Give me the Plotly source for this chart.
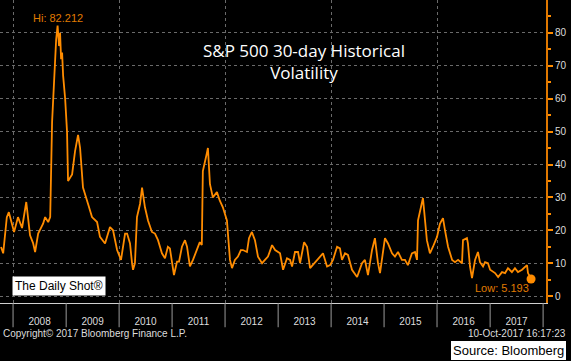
import plotly.graph_objects as go

# ---- data ----
dates = [
    "2007-10-10", "2007-10-25", "2007-11-19", "2007-12-03", "2008-01-08", "2008-02-04",
    "2008-03-03", "2008-04-01", "2008-04-27", "2008-05-18", "2008-06-01", "2008-06-22",
    "2008-07-26", "2008-08-09", "2008-08-30", "2008-09-13", "2008-09-26", "2008-10-10",
    "2008-10-24", "2008-11-03", "2008-11-13", "2008-11-20", "2008-11-27", "2008-12-04",
    "2008-12-11", "2008-12-25", "2009-01-07", "2009-01-14", "2009-02-11", "2009-03-03",
    "2009-03-24", "2009-04-07", "2009-04-27", "2009-06-01", "2009-06-28", "2009-08-02",
    "2009-08-22", "2009-09-26", "2009-10-30", "2009-11-20", "2009-12-18", "2010-01-14",
    "2010-02-11", "2010-02-25", "2010-03-17", "2010-03-31", "2010-04-07", "2010-04-20",
    "2010-05-04", "2010-05-25", "2010-06-08", "2010-06-28", "2010-07-19", "2010-08-15",
    "2010-09-05", "2010-09-26", "2010-10-23", "2010-11-13", "2010-12-03", "2010-12-17",
    "2011-01-07", "2011-01-14", "2011-02-04", "2011-02-18", "2011-03-10", "2011-03-31",
    "2011-04-14", "2011-05-04", "2011-05-25", "2011-06-21", "2011-07-11", "2011-07-25",
    "2011-08-01", "2011-08-29", "2011-09-05", "2011-09-19", "2011-10-09", "2011-11-06",
    "2011-11-26", "2011-12-17", "2012-01-14", "2012-02-04", "2012-02-18", "2012-03-09",
    "2012-03-30", "2012-04-19", "2012-05-03", "2012-05-31", "2012-06-14", "2012-07-04",
    "2012-07-25", "2012-08-15", "2012-09-12", "2012-10-02", "2012-10-23", "2012-11-20",
    "2012-12-11", "2013-01-14", "2013-02-04", "2013-03-03", "2013-03-24", "2013-04-07",
    "2013-04-27", "2013-05-18", "2013-06-01", "2013-06-29", "2013-07-19", "2013-08-09",
    "2013-09-13", "2013-10-03", "2013-11-06", "2013-12-04", "2013-12-25", "2014-01-14",
    "2014-02-11", "2014-03-03", "2014-03-17", "2014-04-07", "2014-04-27", "2014-05-25",
    "2014-06-29", "2014-08-02", "2014-08-22", "2014-09-12", "2014-10-10", "2014-10-30",
    "2014-11-20", "2014-12-04", "2014-12-25", "2015-01-07", "2015-01-28", "2015-02-25",
    "2015-03-17", "2015-04-07", "2015-05-04", "2015-05-25", "2015-06-14", "2015-07-12",
    "2015-08-02", "2015-08-16", "2015-08-23", "2015-09-19", "2015-09-26", "2015-10-23",
    "2015-11-13", "2015-12-04", "2016-01-01", "2016-01-21", "2016-02-11", "2016-02-25",
    "2016-03-17", "2016-04-14", "2016-05-04", "2016-05-25", "2016-06-21", "2016-06-28",
    "2016-07-25", "2016-08-01", "2016-08-15", "2016-08-29", "2016-09-19", "2016-10-09",
    "2016-10-23", "2016-11-13", "2016-11-27", "2016-12-17", "2017-01-01", "2017-02-04",
    "2017-02-25", "2017-03-24", "2017-04-14", "2017-05-04", "2017-05-31", "2017-06-21",
    "2017-07-12", "2017-08-09", "2017-08-29", "2017-09-12", "2017-09-19", "2017-10-10",
]
volatility = [
    14.9, 13.0, 24.0, 25.5, 19.5, 24.0,
    20.7, 28.6, 18.5, 16.1, 13.4, 19.0,
    22.0, 24.0, 22.5, 24.0, 53.0, 68.0,
    78.0, 82.212, 76.0, 80.0, 72.0, 74.0,
    67.0, 60.0, 50.0, 35.0, 37.0, 44.0,
    49.0, 45.0, 33.0, 28.0, 24.0, 22.5,
    18.0, 16.0, 21.0, 20.0, 14.0, 11.0,
    19.0, 19.0, 16.0, 10.0, 8.0, 10.0,
    24.0, 28.0, 33.0, 27.0, 23.0, 19.5,
    19.0, 17.0, 13.0, 11.5, 15.0, 14.5,
    9.0, 6.4, 10.5, 10.5, 15.0, 17.0,
    15.0, 9.0, 11.0, 14.0, 16.4, 15.5,
    38.0, 43.5, 45.0, 34.0, 30.0, 31.6,
    29.0, 27.0, 23.0, 11.0, 8.5, 11.0,
    12.0, 14.0, 14.0, 13.4, 17.6, 19.5,
    17.0, 12.0, 10.0, 11.0, 12.0, 15.5,
    14.0, 13.0, 8.0, 11.5, 11.0, 9.0,
    13.4, 13.4, 10.0, 16.4, 15.0, 8.5,
    10.3, 11.0, 13.0, 9.0, 9.4, 11.0,
    15.0, 14.5, 11.0, 13.0, 12.5, 8.0,
    5.8, 10.0, 11.0, 6.4, 14.0, 17.6,
    10.0, 7.0, 13.0, 17.6, 16.0, 13.0,
    12.0, 13.4, 11.0, 11.0, 9.4, 13.0,
    13.4, 11.0, 23.0, 29.0, 29.8, 17.0,
    13.0, 15.0, 18.0, 22.0, 23.7, 20.0,
    15.0, 11.0, 10.3, 11.0, 10.0, 17.0,
    17.6, 16.0, 9.0, 5.5, 11.0, 13.4,
    10.3, 9.0, 10.3, 10.0, 8.0, 7.0,
    5.8, 7.3, 7.0, 8.5, 7.3, 8.5,
    7.3, 8.0, 9.0, 9.4, 7.0, 5.193,
]
year_labels = ["2008", "2009", "2010", "2011", "2012", "2013", "2014", "2015", "2016", "2017"]
year_mid = [y + "-07-02" for y in year_labels]
year_starts = [f"{y}-01-01" for y in range(2008, 2019)]
grid_years = [f"{y}-01-01" for y in range(2008, 2017, 2)]
y_ticks = [0, 10, 20, 30, 40, 50, 60, 70, 80]
y_minor = [5, 15, 25, 35, 45, 55, 65, 75, 85]

ORANGE = "#ff8c00"
LABEL_ORANGE = "#e07b00"
TXT = "#dddddd"
FONT = "Liberation Sans"
GRID = "#6a6a6a"

hi_idx = volatility.index(max(volatility))
lo_idx = len(volatility) - 1

fig = go.Figure()
fig.add_trace(go.Scatter(x=dates, y=volatility, mode="lines",
                         line=dict(color=ORANGE, width=1.8), hoverinfo="skip"))
fig.add_trace(go.Scatter(x=[dates[lo_idx]], y=[volatility[lo_idx]], mode="markers",
                         marker=dict(color=ORANGE, size=9), hoverinfo="skip"))

shapes = []
for d in year_starts:
    shapes.append(dict(type="line", xref="x", yref="paper", x0=d, x1=d, y0=0, y1=-0.08,
                       line=dict(color="#9a9a9a", width=1)))

annotations = [
    dict(text="S&P 500 30-day Historical<br>Volatility", xref="paper", yref="paper",
         x=0.557, y=0.797, showarrow=False, xanchor="center", yanchor="middle",
         font=dict(family="Open Sans", size=17, color="#ffffff")),
    dict(text=f"Hi: {volatility[hi_idx]:.3f}", x=dates[hi_idx], y=volatility[hi_idx],
         xref="x", yref="y", showarrow=False, yanchor="bottom", yshift=0,
         font=dict(family=FONT, size=11, color=LABEL_ORANGE)),
    dict(text=f"Low: {volatility[lo_idx]:.3f}", x=dates[lo_idx], y=volatility[lo_idx],
         xref="x", yref="y", showarrow=False, xanchor="right", yanchor="top",
         xshift=0, yshift=-1, font=dict(family=FONT, size=11, color=LABEL_ORANGE)),
    dict(text="The Daily Shot®", xref="paper", yref="paper", x=0.022, y=0.056,
         xanchor="left", yanchor="middle", showarrow=False, bgcolor="#ffffff",
         borderpad=2, font=dict(family=FONT, size=12, color="#000000")),
    dict(text="Copyright© 2017 Bloomberg Finance L.P.", xref="paper", yref="paper",
         x=0.002, y=-0.102, xanchor="left", yanchor="middle", showarrow=False,
         font=dict(family=FONT, size=10, color=TXT)),
    dict(text="10-Oct-2017 16:17:23", xref="paper", yref="paper",
         x=1.04, y=-0.102, xanchor="right", yanchor="middle", showarrow=False,
         font=dict(family=FONT, size=10, color=TXT)),
    dict(text="Source: Bloomberg", xref="paper", yref="paper", x=1.0385, y=-0.156,
         xanchor="right", yanchor="middle", showarrow=False, bgcolor="#ffffff",
         bordercolor="#000000", borderwidth=1, borderpad=2,
         font=dict(family=FONT, size=13, color="#000000")),
]

fig.update_layout(
    width=571, height=361,
    margin=dict(l=0, r=25, t=0, b=58),
    paper_bgcolor="#000000", plot_bgcolor="#000000",
    showlegend=False,
    shapes=shapes, annotations=annotations,
    xaxis=dict(type="date", range=["2007-10-03", "2018-01-21"],
               tickmode="array", tickvals=year_mid, ticktext=year_labels,
               ticks="outside", ticklen=9, tickcolor="rgba(0,0,0,0)",
               tickfont=dict(family=FONT, size=10, color=TXT),
               showgrid=False, zeroline=False,
               showline=True, linecolor="#d0d0d0", linewidth=1,
               minor=dict(tickmode="array", tickvals=grid_years, ticks="",
                          showgrid=True, gridcolor=GRID, griddash="dot", gridwidth=1)),
    yaxis=dict(side="right", range=[-2.1, 90], tickmode="array", tickvals=y_ticks,
               ticks="outside", ticklen=5, tickcolor=ORANGE, tickwidth=2,
               tickfont=dict(family=FONT, size=10, color=TXT),
               showgrid=True, gridcolor=GRID, griddash="dot", gridwidth=1,
               zeroline=False, showline=True, linecolor="#e07800", linewidth=2,
               minor=dict(tickmode="array", tickvals=y_minor, ticks="outside",
                          ticklen=3, tickcolor=ORANGE, showgrid=False)),
)

fig.write_html("out.html", config={"displayModeBar": False})

# remove the browser's default page margin so the figure fills the window exactly
with open("out.html", "r", encoding="utf-8") as f:
    html = f.read()
html = html.replace("<head>", "<head><style>html,body{margin:0;padding:0;overflow:hidden;background:#000;}</style>", 1)
with open("out.html", "w", encoding="utf-8") as f:
    f.write(html)
